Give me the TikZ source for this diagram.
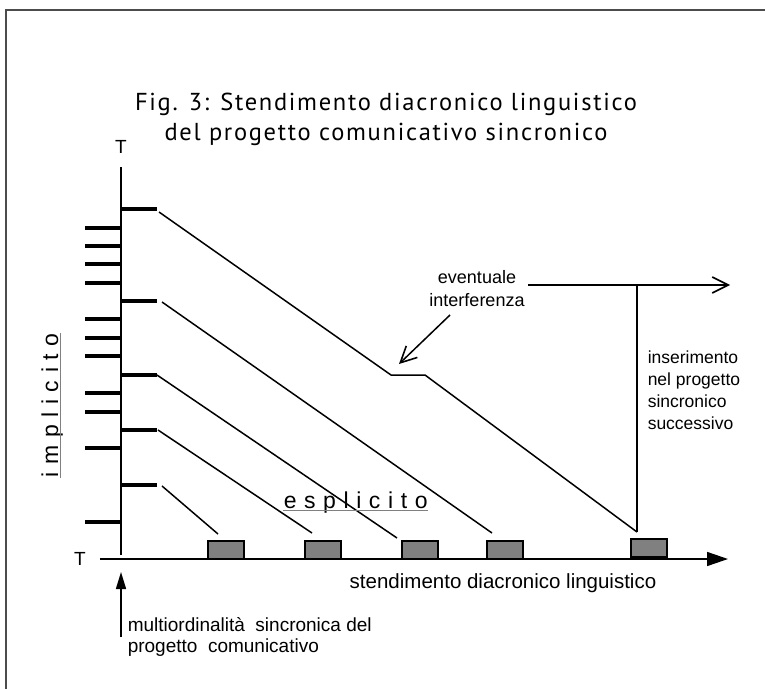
\documentclass[tikz,border=0pt]{standalone}
\usepackage{fontspec}
\setmainfont{Liberation Sans}
\newfontfamily\titlefont[LetterSpace=7]{PT Sans}
\newfontfamily\spacedfont[LetterSpace=33]{Liberation Sans}
\usetikzlibrary{arrows.meta}
\definecolor{boxgray}{gray}{0.5}
\definecolor{framegray}{gray}{0.3}
\tikzset{
  tickmark/.style={line width=3.6pt},
  slot/.style={draw=black, line width=1.6pt, fill=boxgray},
  lbl/.style={inner sep=0pt, align=left},
  spaced/.style={inner sep=0pt, font=\spacedfont\fontsize{23}{27}\selectfont},
  underl/.style={draw=gray, line width=1pt},
  axistip/.style={-{Triangle[length=21pt,width=14pt]}},
  barb/.style={-{Straight Barb[length=16pt,width=16pt,line width=1.6pt]}}
}

\begin{document}
\begin{tikzpicture}[x=1pt, y=-1pt, line width=1.5pt]
			\useasboundingbox (0,0) rectangle (765,688);
			\draw[framegray, line width=1.3pt] (6,10) rectangle (780,700);
			\node[font=\titlefont\fontsize{24.5}{30}\selectfont, align=center] (title) at (386,119) {Fig. 3: Stendimento diacronico linguistico\\del progetto comunicativo sincronico};
			\coordinate (o) at (121,555);
			\coordinate (ytop) at (121,167);
			\coordinate (xstart) at (100,559);
			\coordinate (xend) at (728,559);
			\node[font=\fontsize{19}{20}\selectfont] (ty) at (121,147) {T};
			\node[font=\fontsize{19}{20}\selectfont] (tx) at (80,559) {T};
			\draw (o) -- (ytop);
			\draw[axistip] (xstart) -- (xend);
			\foreach \y in {228,246,264,283,319,338,356,393,412,448,522}
				\draw[tickmark] (85,\y) -- (121,\y);
			\foreach \y in {209,301,375,430,485}
				\draw[tickmark] (121,\y) -- (157,\y);
			\draw (159,212) -- (391,375) -- (425,375) -- (637,532);
			\draw (162,302) -- (492,533);
			\draw (157,375) -- (397,538);
			\draw (158,430) -- (312,533);
			\draw (162,486) -- (218,534);
			\foreach \a/\n in {208/1,305/2,402/3,487/4}
				\draw[slot] (\a,541) rectangle ++(36,18) coordinate (s\n);
			\draw[slot] (631,539) rectangle (667,557);
			\coordinate (ins top) at (637,285);
			\coordinate (ins bot) at (637,532);
			\draw (ins bot) -- (ins top);
			\draw[barb] (528,285) -- (730,285);
			\node[align=center, font=\fontsize{18}{23}\selectfont] (interf) at (477,289) {eventuale\\interferenza};
			\coordinate (kink) at (399,364);
			\draw[barb] (450,315) -- (kink);
			\node[lbl, anchor=north west, font=\fontsize{17.5}{22}\selectfont] (ins) at (647,350) {inserimento\\nel progetto\\sincronico\\successivo};
			\node[font=\fontsize{20.5}{24}\selectfont] (diac) at (503,583) {stendimento diacronico linguistico};
			\coordinate (up bot) at (121,637);
			\coordinate (up tip) at (121,572);
			\draw[-{Triangle[length=17pt,width=10pt]}] (up bot) -- (up tip);
			\node[lbl, anchor=north west, font=\fontsize{19}{21}\selectfont] (multi) at (127,617) {multiordinalità\ \ sincronica del\\progetto\ \ comunicativo};
			\node[spaced, anchor=base west] (espl) at (283,508) {esplicito};
			\draw[underl] ([yshift=-2.5pt]espl.base west) -- ([yshift=-2.5pt]espl.base east);
			\node[spaced, anchor=base west, rotate=90] (impl) at (58,478) {implicito};
			\draw[underl] ([xshift=2.5pt]impl.base west) -- ([xshift=2.5pt]impl.base east);
		\end{tikzpicture}
\end{document}
